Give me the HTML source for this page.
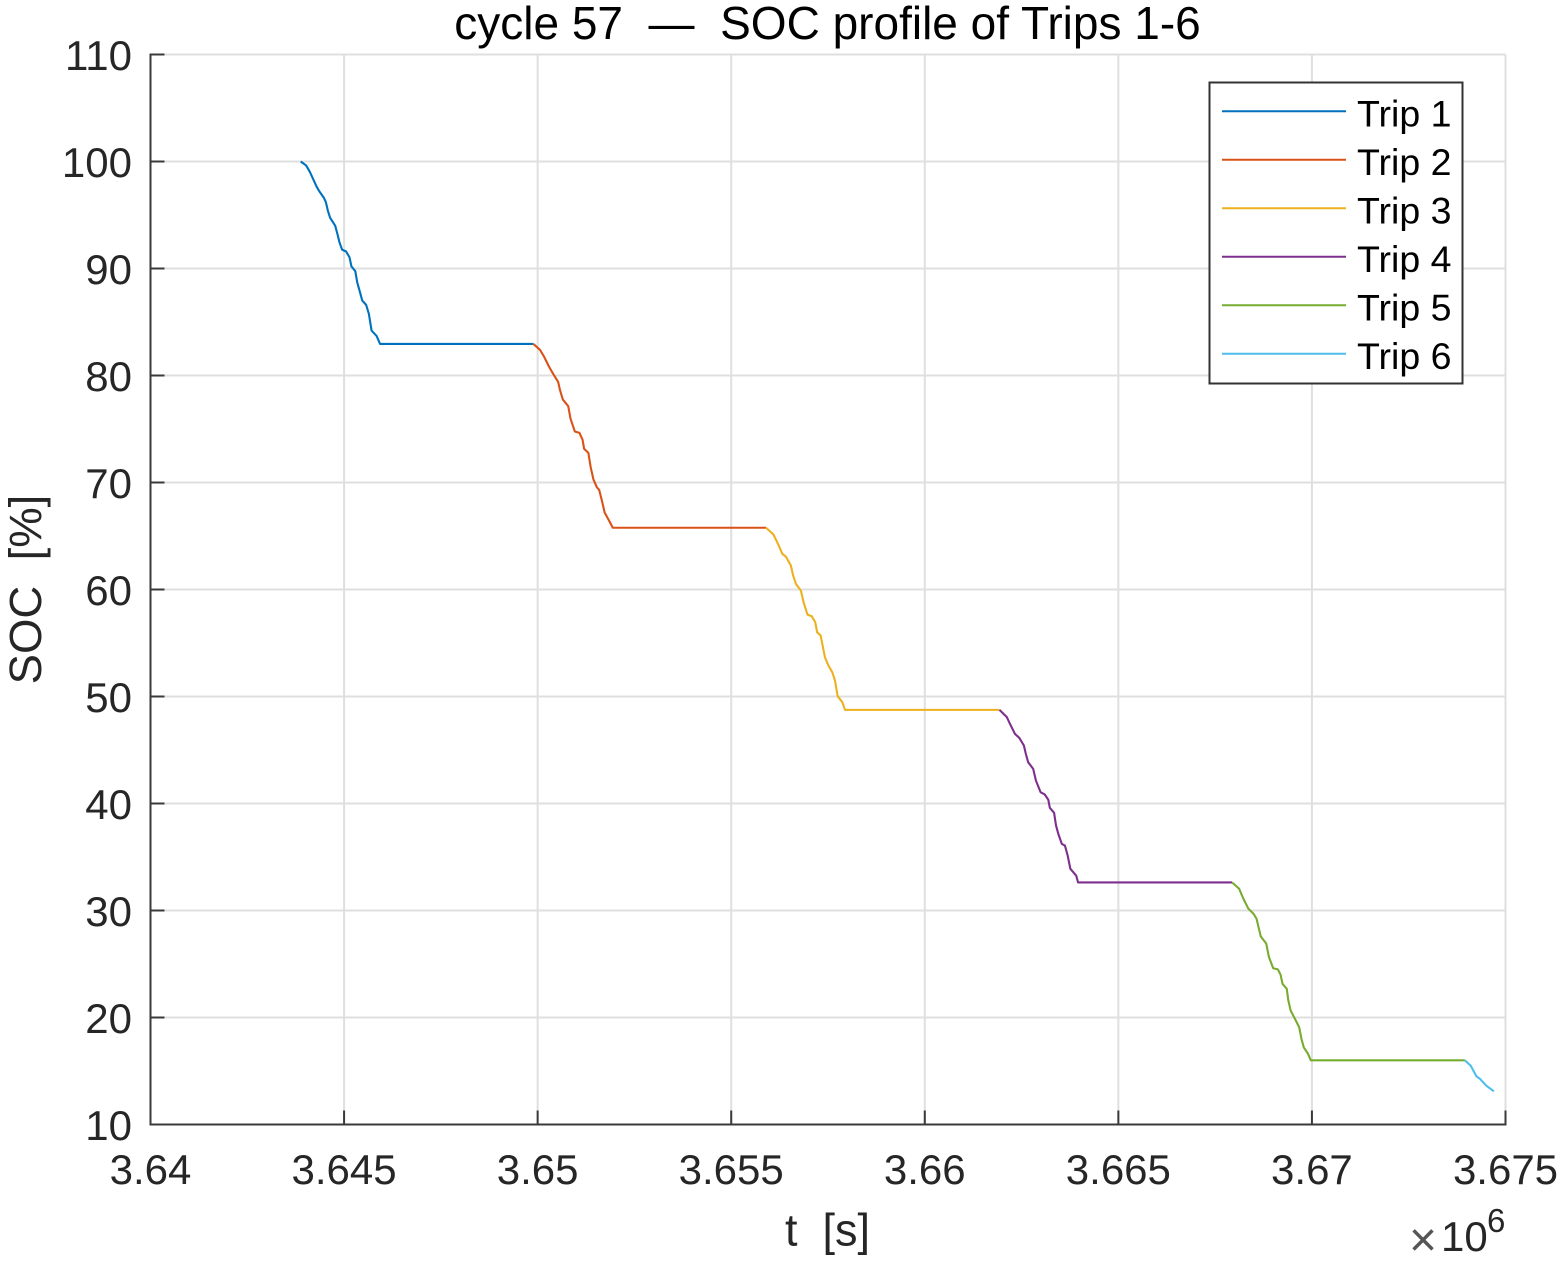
<!DOCTYPE html>
<html lang="en">
<head>
<meta charset="utf-8">
<title>cycle 57 — SOC profile of Trips 1-6</title>
<style>
html,body{margin:0;padding:0;background:#fff;}
svg{display:block;}
text{font-family:"Liberation Sans",Arial,sans-serif;white-space:pre;}
</style>
</head>
<body>
<svg id="chart" xmlns="http://www.w3.org/2000/svg" width="1563" height="1261" viewBox="0 0 1563 1261">
<rect x="0" y="0" width="1563" height="1261" fill="#fff"/>
<g id="grid"></g>
<g id="series"></g>
<g id="axes"></g>
<g id="legend"></g>
<text x="827.5" y="39" font-size="46" text-anchor="middle" fill="#000">cycle 57  —  SOC profile of Trips 1-6</text>
<text transform="translate(41,589.5) rotate(-90)" font-size="45.5" text-anchor="middle" fill="#262626">SOC  [%]</text>
<text x="827.5" y="1245.5" font-size="45" text-anchor="middle" fill="#262626">t  [s]</text>
<text fill="#262626"><tspan x="1409" y="1256" font-size="48" fill="#555">×</tspan><tspan x="1441" y="1251" font-size="42">10</tspan><tspan x="1487" y="1232" font-size="33">6</tspan></text>
</svg>
<script>
// Time values are in units of 1000 s, SOC in percent.
const xTickValues = [3640, 3645, 3650, 3655, 3660, 3665, 3670, 3675];
const xTickLabels = ['3.64', '3.645', '3.65', '3.655', '3.66', '3.665', '3.67', '3.675'];
const yTickValues = [10, 20, 30, 40, 50, 60, 70, 80, 90, 100, 110];
const yTickLabels = ['10', '20', '30', '40', '50', '60', '70', '80', '90', '100', '110'];
const tripNames = ['Trip 1', 'Trip 2', 'Trip 3', 'Trip 4', 'Trip 5', 'Trip 6'];

const trip1Time = [3643.88,3644.02,3644.12,3644.21,3644.29,3644.36,3644.48,3644.53,3644.58,3644.64,3644.77,3644.83,3644.88,3644.95,3645.05,3645.14,3645.19,3645.29,3645.34,3645.41,3645.47,3645.57,3645.64,3645.71,3645.84,3645.93,3649.89];
const trip1Soc = [100,99.63,99.0,98.29,97.66,97.22,96.6,96.2,95.42,94.74,94.0,93.2,92.46,91.75,91.6,91.05,90.2,89.75,88.7,87.8,87.0,86.6,85.77,84.2,83.7,82.95,82.95];

const trip2Time = [3649.89,3650.06,3650.16,3650.3,3650.4,3650.53,3650.58,3650.65,3650.79,3650.85,3650.96,3651.08,3651.16,3651.2,3651.31,3651.37,3651.44,3651.53,3651.59,3651.66,3651.73,3651.85,3651.94,3655.9];
const trip2Soc = [82.95,82.4,81.8,80.78,80.16,79.4,78.6,77.76,77.13,75.95,74.77,74.64,74.0,73.15,72.77,71.43,70.3,69.55,69.3,68.3,67.2,66.4,65.77,65.77];

const trip3Time = [3655.9,3656.09,3656.2,3656.32,3656.41,3656.54,3656.6,3656.67,3656.8,3656.87,3656.97,3657.08,3657.17,3657.22,3657.31,3657.37,3657.42,3657.51,3657.61,3657.68,3657.75,3657.87,3657.94,3661.93];
const trip3Soc = [65.77,65.14,64.33,63.33,63.08,62.24,61.3,60.53,59.9,58.8,57.65,57.5,56.95,56.0,55.7,54.6,53.67,52.9,52.27,51.5,50.03,49.47,48.75,48.75];

const trip4Time = [3661.93,3662.12,3662.2,3662.33,3662.44,3662.56,3662.61,3662.67,3662.8,3662.87,3662.99,3663.1,3663.19,3663.23,3663.34,3663.39,3663.45,3663.54,3663.62,3663.69,3663.76,3663.91,3663.96,3667.94];
const trip4Soc = [48.75,48.07,47.45,46.5,46.14,45.42,44.64,43.86,43.24,42.15,41.06,40.84,40.35,39.6,39.13,37.94,37.15,36.22,36.07,35.14,33.9,33.27,32.62,32.62];

const trip5Time = [3667.94,3668.12,3668.23,3668.36,3668.49,3668.57,3668.63,3668.68,3668.82,3668.89,3669.0,3669.12,3669.19,3669.24,3669.35,3669.39,3669.45,3669.56,3669.67,3669.73,3669.79,3669.9,3669.97,3673.95];
const trip5Soc = [32.62,32.03,31.1,30.16,29.7,29.23,28.3,27.57,26.9,25.64,24.6,24.5,24.0,23.15,22.68,21.6,20.65,19.88,19.1,18.0,17.2,16.6,16.0,16.0];

const trip6Time = [3673.95,3674.1,3674.25,3674.34,3674.5,3674.7];
const trip6Soc = [16.0,15.5,14.5,14.27,13.64,13.1];

const tripColors = ['#0072bd', '#d95319', '#edb120', '#7e2f8e', '#77ac30', '#4dbeee'];

const NS = 'http://www.w3.org/2000/svg';
const plotLeft = 150.5, plotRight = 1505.5, plotTop = 54.5, plotBottom = 1124.5;
const xMin = 3640, xMax = 3675, yMin = 10, yMax = 110;
function xScale(t) { return plotLeft + (t - xMin) / (xMax - xMin) * (plotRight - plotLeft); }
function yScale(v) { return plotBottom - (v - yMin) / (yMax - yMin) * (plotBottom - plotTop); }
function make(tag, attrs, parent, text) {
  const el = document.createElementNS(NS, tag);
  for (const k in attrs) el.setAttribute(k, attrs[k]);
  if (text !== undefined) el.textContent = text;
  parent.appendChild(el);
  return el;
}
const gridG = document.getElementById('grid');
const axesG = document.getElementById('axes');
const seriesG = document.getElementById('series');
const legendG = document.getElementById('legend');
const axisColor = '#3a3a3a', labelColor = '#262626', gridColor = '#dfdfdf';

xTickValues.forEach(function (v, i) {
  const x = xScale(v);
  const g = make('line', {x1: x, x2: x, y1: plotTop, y2: plotBottom, stroke: gridColor, 'stroke-width': 2}, gridG);
  
  
  const t = make('line', {x1: x, x2: x, y1: plotBottom, y2: plotBottom - 14, stroke: axisColor, 'stroke-width': 2}, axesG);
  
  
  const l = make('text', {x: x, y: 1184, 'font-size': 42, 'text-anchor': 'middle', fill: labelColor}, axesG, xTickLabels[i]);
  
  
});
yTickValues.forEach(function (v, i) {
  const y = yScale(v);
  const g = make('line', {x1: plotLeft, x2: plotRight, y1: y, y2: y, stroke: gridColor, 'stroke-width': 2}, gridG);
  
  
  const t = make('line', {x1: plotLeft, x2: plotLeft + 14, y1: y, y2: y, stroke: axisColor, 'stroke-width': 2}, axesG);
  
  
  const l = make('text', {x: 132, y: y + 15.5, 'font-size': 42, 'text-anchor': 'end', fill: labelColor}, axesG, yTickLabels[i]);
  
  
});
const xAxisLine = make('line', {x1: plotLeft - 1, x2: plotRight + 1, y1: plotBottom, y2: plotBottom, stroke: axisColor, 'stroke-width': 2}, axesG);


const yAxisLine = make('line', {x1: plotLeft, x2: plotLeft, y1: plotTop - 1, y2: plotBottom + 1, stroke: axisColor, 'stroke-width': 2}, axesG);



const tripTimes = [trip1Time, trip2Time, trip3Time, trip4Time, trip5Time, trip6Time];
const tripSocs = [trip1Soc, trip2Soc, trip3Soc, trip4Soc, trip5Soc, trip6Soc];
tripTimes.forEach(function (times, i) {
  const pts = times.map(function (t, j) { return xScale(t).toFixed(2) + ',' + yScale(tripSocs[i][j]).toFixed(2); }).join(' ');
  const line = make('polyline', {points: pts, fill: 'none', stroke: tripColors[i], 'stroke-width': 2.1, 'stroke-linejoin': 'round'}, seriesG);
  
  
});

const legendBox = make('rect', {x: 1209.5, y: 82.5, width: 253, height: 301, fill: '#fff', stroke: '#333', 'stroke-width': 2}, legendG);


tripNames.forEach(function (name, i) {
  const y = 111.3 + i * 48.5;
  const s = make('line', {x1: 1222, x2: 1346, y1: y, y2: y, stroke: tripColors[i], 'stroke-width': 2}, legendG);
  
  
  const l = make('text', {x: 1357, y: y + 15, 'font-size': 37.5, fill: '#000'}, legendG, name);
  
  
});
</script>
</body>
</html>
